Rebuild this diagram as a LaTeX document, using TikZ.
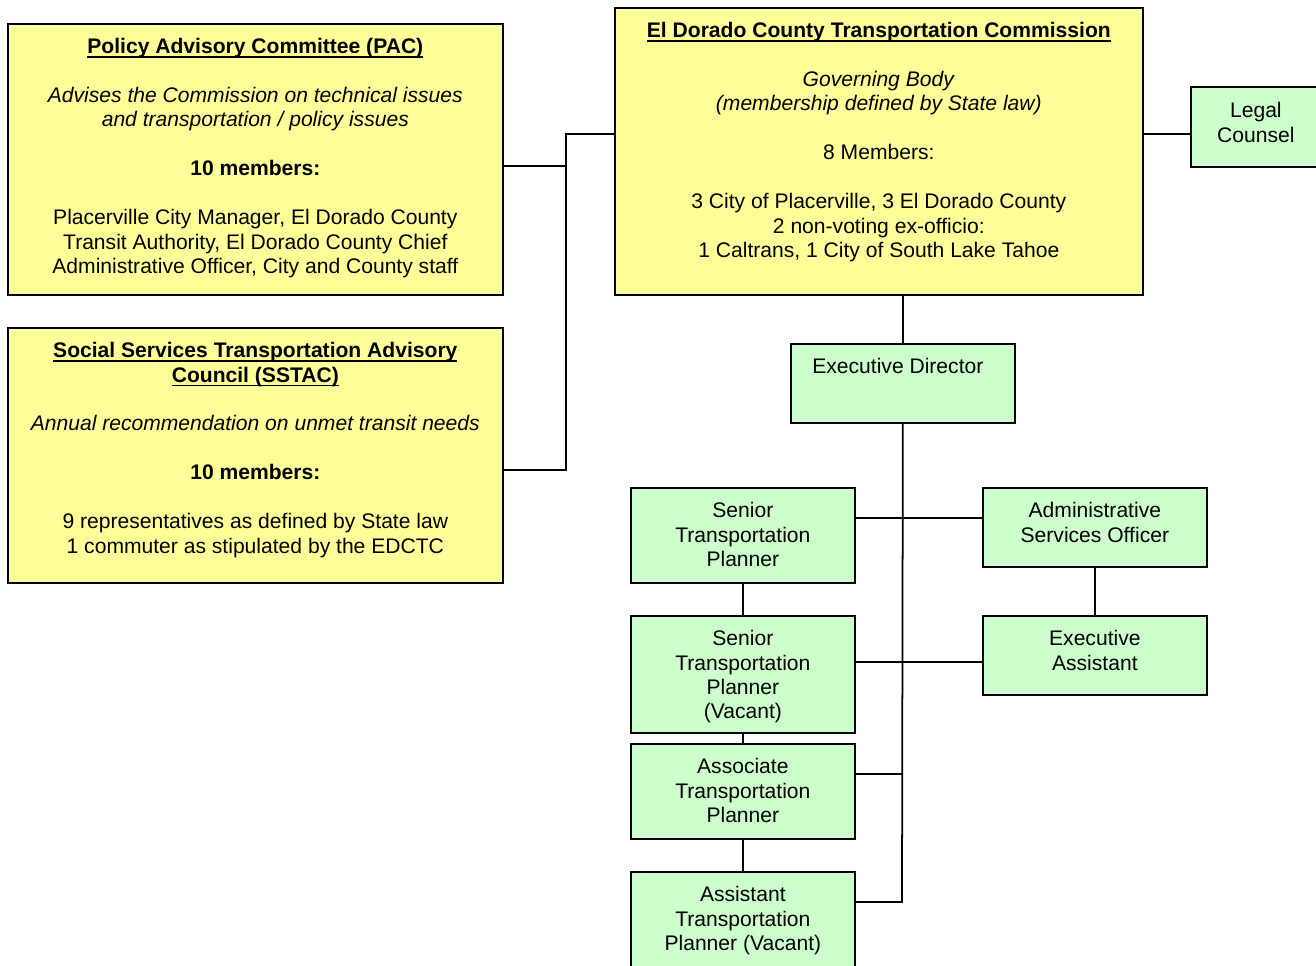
\documentclass[tikz,border=0pt]{standalone}
\usepackage{fontspec}
\setmainfont{Liberation Sans}
\usepackage{tikz}
\definecolor{boardyellow}{HTML}{FFFF99}
\definecolor{staffgreen}{HTML}{CCFFCC}
\newsavebox{\ulbox}
\newcommand{\ulbar}[1]{\sbox{\ulbox}{#1}\rlap{\rule[-2.3pt]{\wd\ulbox}{0.9pt}}\usebox{\ulbox}}

\begin{document}
\begin{tikzpicture}[
  x=0.02cm,y=-0.02cm,
  font=\fontsize{12}{13.9}\selectfont,
  ybox/.style={draw=black,line width=1pt,fill=boardyellow,inner sep=0pt,anchor=north west},
  gbox/.style={draw=black,line width=1pt,fill=staffgreen,inner sep=0pt,anchor=north west},
  txt/.style={inner sep=0pt,align=center,anchor=north},
  lnk/.style={draw=black,line width=1pt},
]
\useasboundingbox (0,0) rectangle (1316,965);

% committees and commission
\node[ybox,minimum width=9.90cm,minimum height=5.42cm] (pac) at (7,23) {};
\node[ybox,minimum width=9.90cm,minimum height=5.10cm] (sstac) at (7,327) {};
\node[ybox,minimum width=10.56cm,minimum height=5.74cm] (edctc) at (614,7) {};

\node[txt] (pac-t) at ([yshift=-0.30cm]pac.north) {%
  \ulbar{\textbf{Policy Advisory Committee (PAC)}}\\[13.9pt]
  \textit{Advises the Commission on technical issues}\\
  \textit{and transportation / policy issues}\\[13.9pt]
  \textbf{10 members:}\\[13.9pt]
  Placerville City Manager, El Dorado County\\
  Transit Authority, El Dorado County Chief\\
  Administrative Officer, City and County staff};
\node[txt] (sstac-t) at ([yshift=-0.30cm]sstac.north) {%
  \ulbar{\textbf{Social Services Transportation Advisory}}\\
  \ulbar{\textbf{Council (SSTAC)}}\\[13.9pt]
  \textit{Annual recommendation on unmet transit needs}\\[13.9pt]
  \textbf{10 members:}\\[13.9pt]
  9 representatives as defined by State law\\
  1 commuter as stipulated by the EDCTC};
\node[txt] (edctc-t) at ([yshift=-0.30cm]edctc.north) {%
  \ulbar{\textbf{El Dorado County Transportation Commission}}\\[13.9pt]
  \textit{Governing Body}\\
  \textit{(membership defined by State law)}\\[13.9pt]
  8 Members:\\[13.9pt]
  3 City of Placerville, 3 El Dorado County\\
  2 non-voting ex-officio:\\
  1 Caltrans, 1 City of South Lake Tahoe};

% staff
\node[gbox,minimum width=2.60cm,minimum height=1.60cm] (legal) at (1190,86) {};
\node[gbox,minimum width=4.48cm,minimum height=1.58cm] (ed) at (790,343) {};
\node[gbox,minimum width=4.48cm,minimum height=1.90cm] (stp) at (630,487) {};
\node[gbox,minimum width=4.48cm,minimum height=1.58cm] (aso) at (982,487) {};
\node[gbox,minimum width=4.48cm,minimum height=2.34cm] (stpv) at (630,615) {};
\node[gbox,minimum width=4.48cm,minimum height=1.58cm] (ea) at (982,615) {};
\node[gbox,minimum width=4.48cm,minimum height=1.90cm] (atp) at (630,743) {};
\node[gbox,minimum width=4.48cm,minimum height=2.00cm] (asst) at (630,871) {};

\node[txt] (legal-t) at ([yshift=-0.32cm]legal.north) {Legal\\Counsel};
\node[txt] (ed-t) at ([xshift=-0.10cm,yshift=-0.30cm]ed.north) {Executive Director};
\node[txt] (stp-t) at ([yshift=-0.30cm]stp.north) {Senior\\Transportation\\Planner};
\node[txt] (aso-t) at ([yshift=-0.30cm]aso.north) {Administrative\\Services Officer};
\node[txt] (stpv-t) at ([yshift=-0.30cm]stpv.north) {Senior\\Transportation\\Planner\\(Vacant)};
\node[txt] (ea-t) at ([yshift=-0.30cm]ea.north) {Executive\\Assistant};
\node[txt] (atp-t) at ([yshift=-0.30cm]atp.north) {Associate\\Transportation\\Planner};
\node[txt] (asst-t) at ([yshift=-0.30cm]asst.north) {Assistant\\Transportation\\Planner (Vacant)};

% junctions
\coordinate (j1) at (566,166);
\coordinate (j2) at (566,470);
\coordinate (j3) at (566,134);
\coordinate (s1) at (902,518);
\coordinate (s2) at (902,662);
\coordinate (s3) at (902,774);
\coordinate (s4) at (902,902);

\draw[lnk] (pac.east |- j1) -- (j1) -- (j3) -- (edctc.west |- j3);
\draw[lnk] (sstac.east |- j2) -- (j2) -- (j1);
\draw[lnk] (edctc.east |- j3) -- (legal.west |- j3);
\draw[lnk] (ed.north |- edctc.south) -- (ed.north);
\draw[lnk] (ed.south) -- (s4) -- (asst.east |- s4);
\draw[lnk] (stp.east |- s1) -- (aso.west |- s1);
\draw[lnk] (stpv.east |- s2) -- (ea.west |- s2);
\draw[lnk] (atp.east |- s3) -- (s3);
\draw[lnk] (stp.south) -- (stpv.north);
\draw[lnk] (stpv.south) -- (atp.north);
\draw[lnk] (atp.south) -- (asst.north);
\draw[lnk] (aso.south) -- (ea.north);
\end{tikzpicture}
\end{document}
